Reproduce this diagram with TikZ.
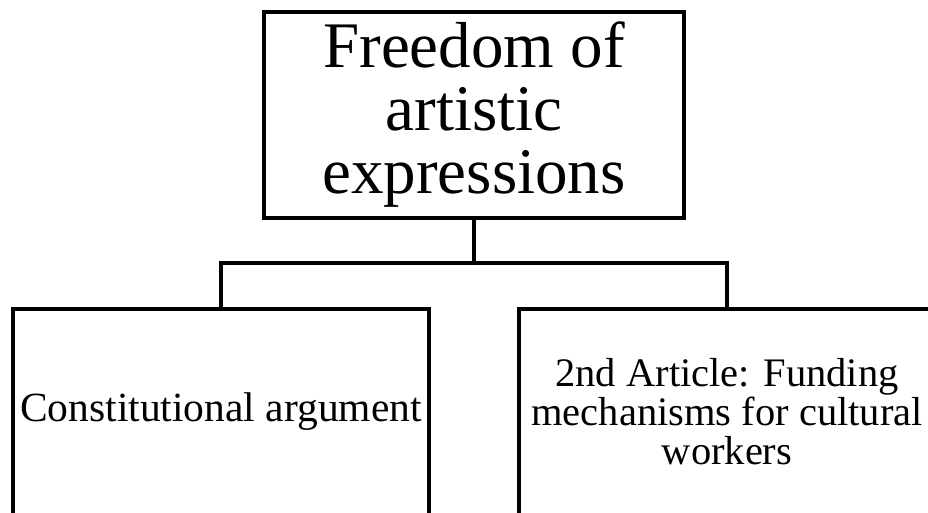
\documentclass[tikz,border=0pt]{standalone}
\usepackage{fontspec}
\setmainfont{Liberation Serif}
\begin{document}
\begin{tikzpicture}[x=1pt,y=1pt,
  box/.style={draw=black, line width=3.2pt, fill=white, align=center, inner sep=0pt},
  link/.style={draw=black, line width=3.2pt}]
  \useasboundingbox (0,0) rectangle (928,512);
  \clip (0,0) rectangle (928,512);
  % root box
  \node[box, minimum width=420pt, minimum height=206pt,
        font=\fontsize{65}{63}\selectfont] (root) at (474,397)
    {Freedom of\\artistic\\expressions};
  % child boxes (run past the page edges)
  \node[box, minimum width=416pt, minimum height=206pt,
        font=\fontsize{41.5}{39}\selectfont] (left) at (221,100)
    {Constitutional argument};
  \node[box, minimum width=416pt, minimum height=206pt,
        font=\fontsize{40.5}{39}\selectfont] (right) at (727,100)
    {2nd Article: Funding\\mechanisms for cultural\\workers};
  % tree connectors
  \coordinate (fork) at (474,249);
  \draw[link] (root.south) -- (fork);
  \draw[link] (fork) -| (left.north);
  \draw[link] (fork) -| (right.north);
\end{tikzpicture}
\end{document}
